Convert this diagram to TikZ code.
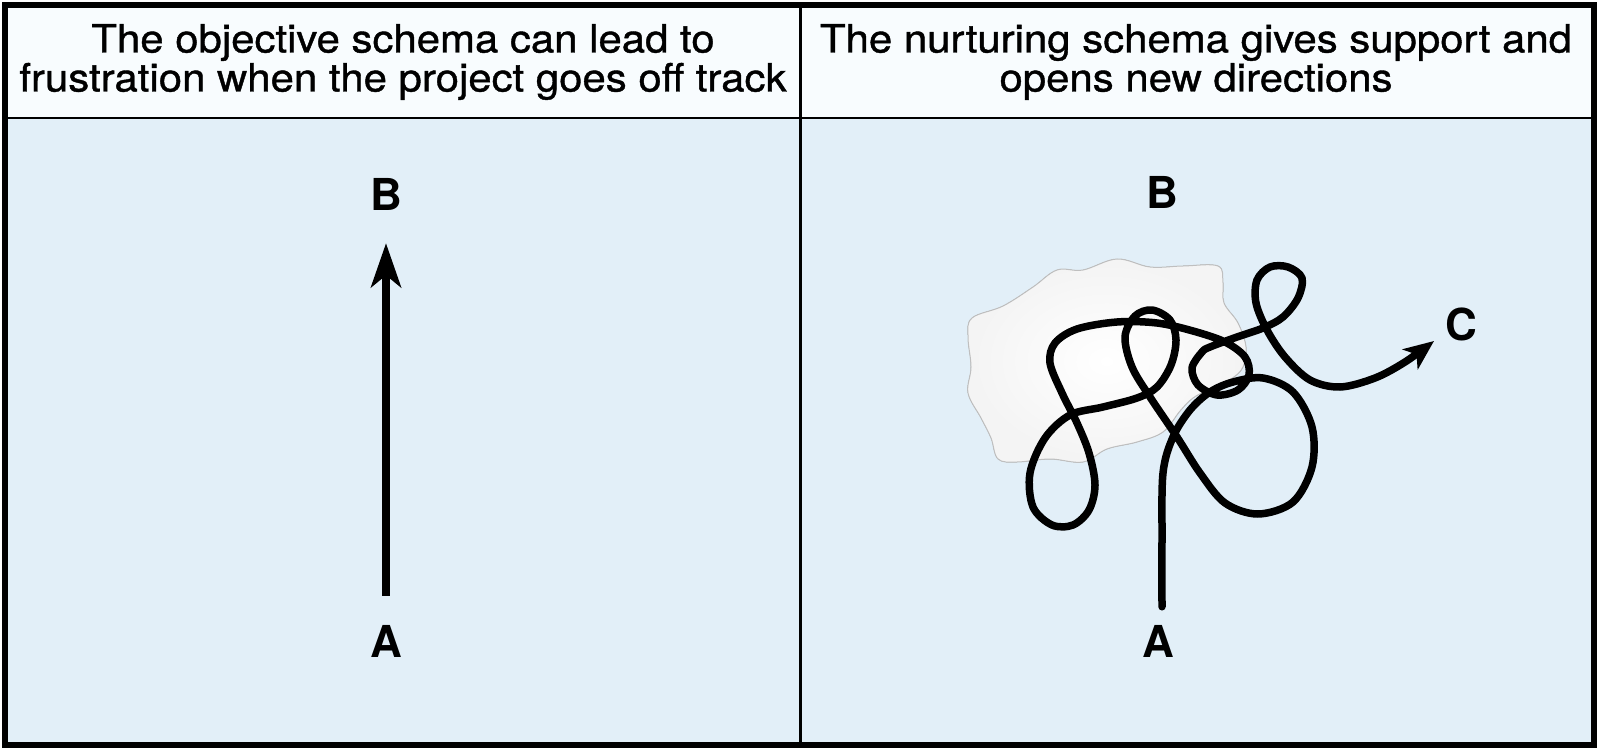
\documentclass[tikz,border=0pt]{standalone}
\usepackage{fontspec}
\setmainfont{TeX Gyre Heros}
\newfontfamily\headfont[FakeStretch=1.075, FakeBold=1]{TeX Gyre Heros}
\usetikzlibrary{arrows.meta, positioning}
\definecolor{panelblue}{RGB}{226,239,248}
\definecolor{headwhite}{RGB}{248,252,254}
\tikzstyle{heading} = [align=center, font=\headfont\fontsize{39}{39}\selectfont, inner sep=0pt]
\tikzstyle{letter} = [font=\fontsize{44}{44}\selectfont\bfseries, inner sep=0pt]
\tikzstyle{arrow} = [line width=7.5pt, -{Stealth[length=44pt, width=30pt, inset=12pt]}]
\tikzstyle{wander} = [line width=7.5pt, line join=round, line cap=round, -{Stealth[length=30pt, width=25pt, inset=8pt]}]
\tikzstyle{blob} = [draw=gray!50, line width=1pt, inner color=white, outer color=gray!9]

\begin{document}
\begin{tikzpicture}[x=1pt, y=-1pt]
\useasboundingbox (0,0) rectangle (1600,751);
% panels
\fill[panelblue] (5,118) rectangle (1594,745);
\fill[headwhite] (5,5) rectangle (1594,118);
\draw[line width=2.5pt] (5,118) -- (1594,118);
\draw[line width=3pt] (800,5) -- (800,745);
\draw[line width=6pt] (5,5) rectangle (1594,745);

% headings
\node (headL) [heading] at (403,62) {The objective schema can lead to\\frustration when the project goes off track};
\node (headR) [heading] at (1196,62) {The nurturing schema gives support and\\opens new directions};

% left: straight path
\node (bL) [letter] at (386,194) {B};
\node (aL) [letter] at (386,641) {A};
\draw [arrow, shorten <=29pt, shorten >=33pt] (aL) -- (bL);

% right: wandering path
\node (bR) [letter] at (1162,192) {B};
\node (aR) [letter] at (1158,641) {A};
\node (cR) [letter] at (1461,324) {C};
\filldraw [blob] plot[smooth cycle, tension=0.6] coordinates {(968,337) (972,318) (1003,306) (1033,287) (1057,270) (1083,270) (1117,259) (1150,267) (1183,266) (1218,266) (1223,283) (1224,303) (1238,323) (1246,347) (1243,367) (1231,379) (1210,389) (1193,398) (1180,411) (1163,432) (1137,442) (1107,449) (1083,462) (1050,459) (1017,462) (998,459) (991,438) (981,418) (968,393) (971,367)};
\coordinate (tail) at ([xshift=4pt, yshift=18pt]aR.north);
\coordinate (tip) at ([xshift=-27pt, yshift=-17pt]cR.center);
\draw [wander] plot[smooth, tension=0.55] coordinates {(tail) (1162,540) (1163,473) (1173,437) (1190,410) (1210,392) (1233,382) (1263,378) (1293,392) (1312,427) (1312,467) (1293,502) (1258,514) (1225,503) (1200,473) (1177,437) (1150,397) (1132,367) (1125,337) (1135,316) (1152,310) (1170,320) (1176,340) (1171,365) (1157,387) (1137,398) (1103,407) (1070,415) (1045,438) (1030,473) (1033,507) (1052,525) (1073,525) (1089,510) (1095,485) (1089,453) (1077,423) (1062,393) (1050,363) (1055,343) (1077,329) (1117,322) (1157,323) (1193,331) (1225,342) (1245,357) (1249,375) (1238,390) (1217,395) (1198,385) (1192,368) (1202,352) (1210,347) (1237,337) (1263,328) (1283,317) (1298,298) (1302,278) (1288,267) (1270,267) (1257,280) (1256,303) (1267,330) (1285,357) (1310,380) (1340,387) (1375,378) (1405,362) (tip)};
\end{tikzpicture}
\end{document}
